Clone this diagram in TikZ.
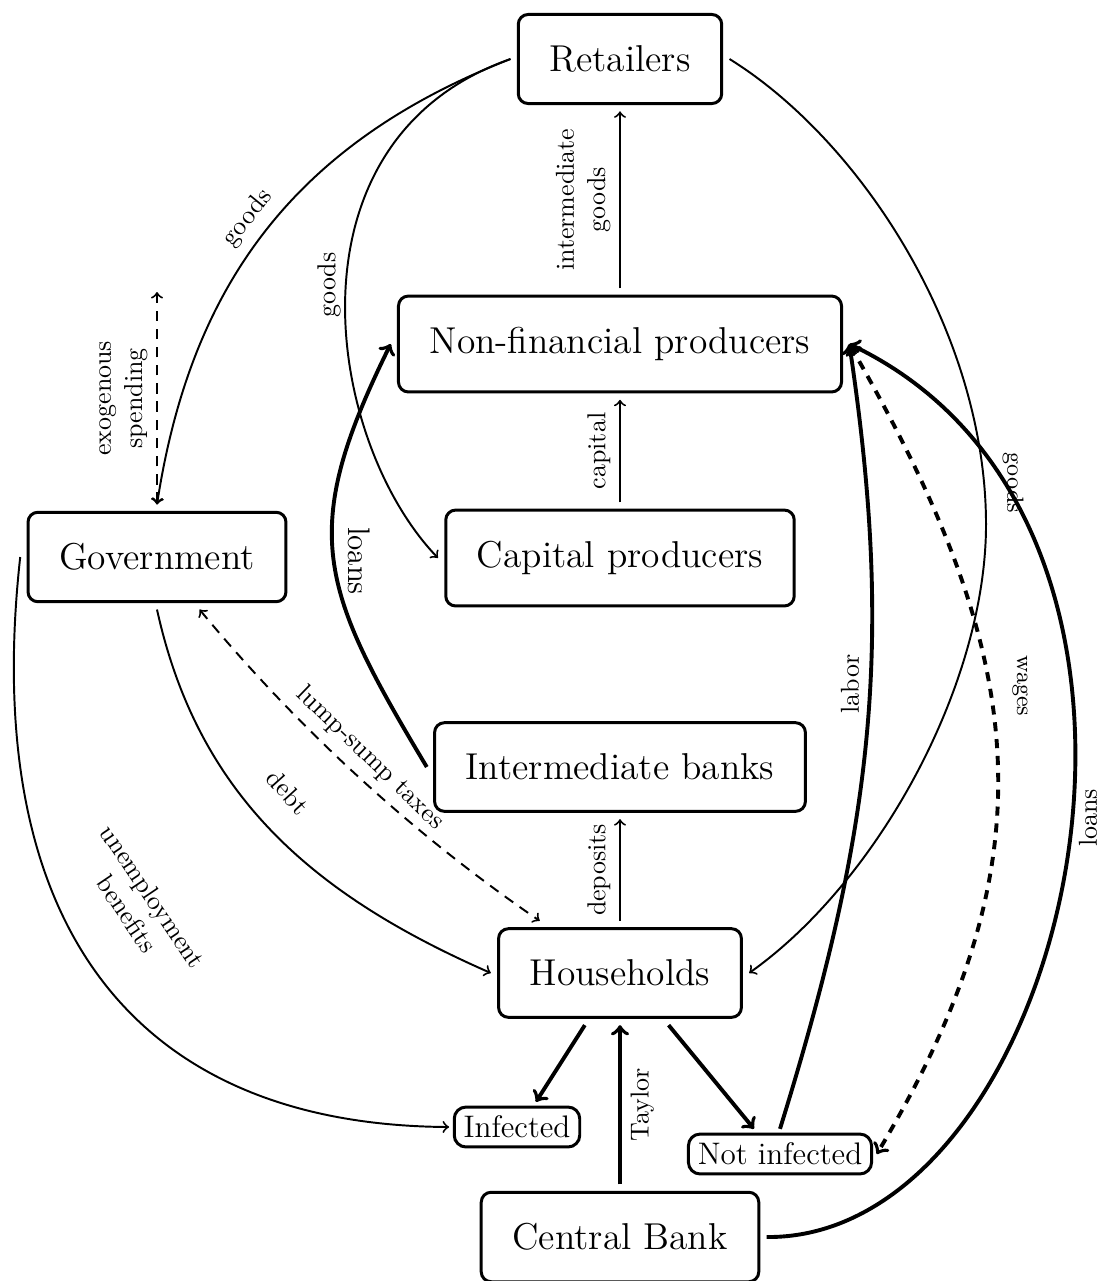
\documentclass[tikz,border=0pt]{standalone}
\begin{document}
\begin{tikzpicture}[x=0.385pt,y=-0.385pt,
  box/.style={draw, rounded corners=3.8pt, line width=1.15pt, inner xsep=12pt, inner ysep=12pt, outer sep=3pt, font=\Large},
  sbox/.style={draw, rounded corners=4.5pt, line width=1.15pt, inner xsep=3.6pt, inner ysep=3.4pt, outer sep=2pt, font=\large},
  flow/.style={line width=0.75pt, ->},
  bold/.style={line width=1.5pt, ->},
  dflow/.style={line width=0.75pt, <->, dash pattern=on 4pt off 3pt},
  dbold/.style={line width=1.5pt, <->, dash pattern=on 3.5pt off 3pt},
  lbl/.style={font=\normalsize}
]
\useasboundingbox (0,0) rectangle (1098,1281);

% nodes
\node[box] (ret) at (620,59) {Retailers};
\node[box] (nfp) at (620,344) {Non-financial producers};
\node[box] (cap) at (620,558) {Capital producers};
\node[box] (gov) at (157,557) {Government};
\node[box] (ib) at (620,767) {Intermediate banks};
\node[box] (hh) at (620,973) {Households};
\node[sbox] (inf) at (517,1127) {Infected};
\node[sbox] (ninf) at (780,1154) {Not infected};
\node[box] (cb) at (620,1237) {Central Bank};
\coordinate (exo) at (157,292);

% straight vertical flows
\draw[flow] (nfp.north) -- (ret.south) node[midway, above, sloped, align=center, lbl] (lint) {intermediate\\goods};
\draw[flow] (cap.north) -- (nfp.south) node[midway, above, sloped, lbl] (lcap) {capital};
\draw[flow] (hh.north) -- (ib.south) node[midway, above, sloped, lbl] (ldep) {deposits};
\draw[bold] (cb.north) -- (hh.south) node[midway, below, sloped, lbl] (ltay) {Taylor};
\draw[dflow] (gov.north) -- (exo) node[midway, above, sloped, align=center, lbl] (lexo) {exogenous\\spending};

% goods from retailers
\draw[flow] (ret.west) .. controls (290,145) and (190,290) .. (gov.north);
\draw[flow] (ret.west) .. controls (280,140) and (325,440) .. (cap.west);
\draw[flow] (ret.east) .. controls (860,140) and (984,330) .. (986,520) .. controls (988,680) and (880,880) .. (hh.east);

% government flows
\draw[flow] (gov.south) .. controls (198,796) and (313,895) .. (hh.west);
\draw[flow] (gov.west) .. controls (-20,920) and (130,1125) .. (inf.west);
\draw[dflow] (gov.-51) .. controls (297,727) and (410,832) .. (hh.147);

% banks
\draw[bold] (ib.west) .. controls (319,587) and (298,532) .. (nfp.west);
\draw[bold] (cb.east) .. controls (1070,1240) and (1236,528) .. (nfp.east);

% households
\draw[bold] (hh.236) -- (inf.53);
\draw[bold] (hh.-47) -- (ninf.136);
\draw[bold] (ninf.north) .. controls (872,832) and (895,648) .. (nfp.east);
\draw[dbold] (nfp.east) .. controls (1025,649) and (1058,852) .. (ninf.east);

% labels
\node[lbl, rotate=51] (lg1) at (248,218) {goods};
\node[lbl, rotate=90] (lg2) at (329,285) {goods};
\node[font=\small, rotate=-90] (lg3) at (1013,483) {goods};
\node[font=\large, rotate=-90] (lloanl) at (359,561) {loans};
\node[lbl, rotate=-44] (ltax) at (370,758) {lump-sump taxes};
\node[lbl, rotate=-48] (ldebt) at (288,792) {debt};
\node[lbl, rotate=-56, align=center] (lunemp) at (140,905) {unemployment\\benefits};
\node[lbl, rotate=90] (llab) at (850,684) {labor};
\node[font=\small, rotate=-90] (lwag) at (1020,686) {wages};
\node[lbl, rotate=90] (lloanr) at (1088,818) {loans};
\end{tikzpicture}
\end{document}
